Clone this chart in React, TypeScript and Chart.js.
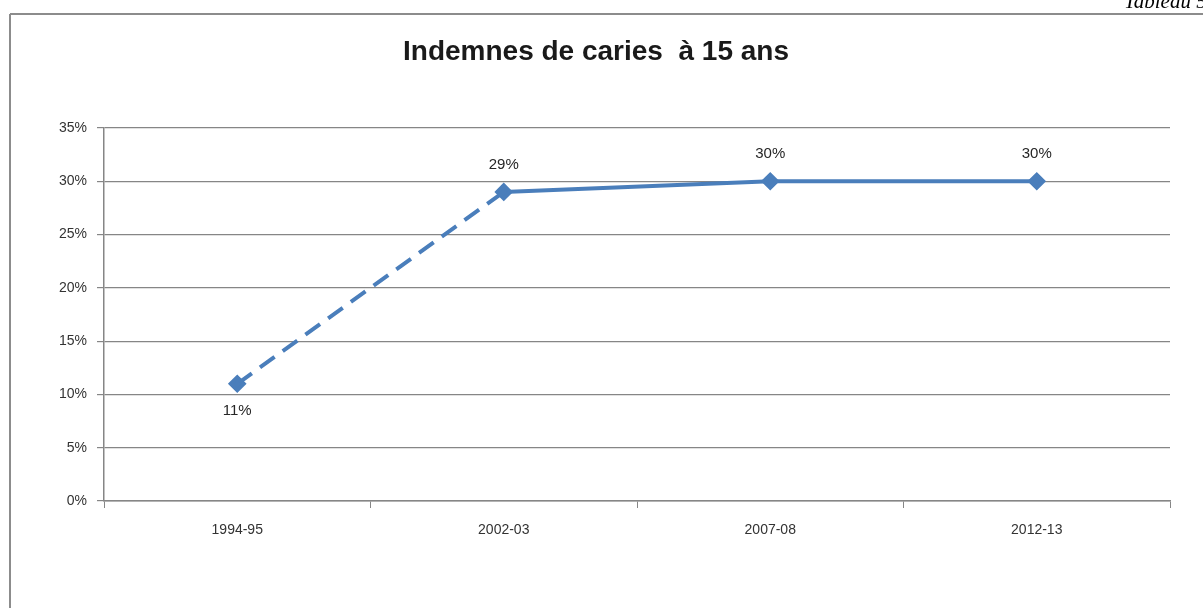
import React, { useEffect, useRef } from "react";
import { Chart, registerables } from "chart.js";

Chart.register(...registerables);

const categories = ["1994-95", "2002-03", "2007-08", "2012-13"];
const values = [11, 29, 30, 30];
const labelBelow = [true, false, false, false];
const yTicks = [0, 5, 10, 15, 20, 25, 30, 35];
const chartTitle = "Indemnes de caries  à 15 ans";
const pageCaption = "Tableau 51";

const FONT = "'Liberation Sans', Arial, sans-serif";
const BLUE = "#4A7EBB";

const decorPlugin = {
  id: "decor",
  beforeDraw(chart: any) {
    const ctx = chart.ctx;
    ctx.save();
    ctx.fillStyle = "#ffffff";
    ctx.fillRect(0, 0, chart.width, chart.height);
    // page border lines
    ctx.strokeStyle = "#8c8c8c";
    ctx.lineWidth = 2;
    ctx.beginPath();
    ctx.moveTo(10, 14);
    ctx.lineTo(chart.width, 14);
    ctx.moveTo(10, 14);
    ctx.lineTo(10, chart.height);
    ctx.stroke();
    // caption
    ctx.fillStyle = "#000000";
    ctx.font = "italic 21px 'Liberation Serif', 'Times New Roman', serif";
    ctx.textAlign = "left";
    ctx.textBaseline = "alphabetic";
    ctx.fillText(pageCaption, 1124, 8);
    // title
    ctx.font = "bold 28px " + FONT;
    ctx.textAlign = "center";
    ctx.textBaseline = "middle";
    ctx.fillStyle = "#1a1a1a";
    ctx.fillText(chartTitle, 596, 52);
    ctx.restore();
  },
  afterDatasetsDraw(chart: any) {
    const ctx = chart.ctx;
    const meta = chart.getDatasetMeta(0);
    ctx.save();
    ctx.font = "15px " + FONT;
    ctx.fillStyle = "#262626";
    ctx.textAlign = "center";
    ctx.textBaseline = "middle";
    meta.data.forEach((pt: any, i: number) => {
      const dy = labelBelow[i] ? 27 : -27;
      ctx.fillText(values[i] + "%", pt.x, pt.y + dy);
    });
    ctx.restore();
  },
};

export default function App() {
  const ref = useRef<HTMLCanvasElement>(null);
  useEffect(() => {
    if (!ref.current) return;
    const chart = new Chart(ref.current, {
      type: "line",
      data: {
        labels: categories,
        datasets: [
          {
            data: values,
            borderColor: BLUE,
            backgroundColor: BLUE,
            borderWidth: 4,
            pointStyle: "rectRot",
            pointRadius: 6.5,
            pointBackgroundColor: BLUE,
            pointBorderColor: BLUE,
            tension: 0,
            segment: {
              borderDash: (c: any) => (c.p0DataIndex === 0 ? [18, 10] : undefined),
            },
          },
        ],
      },
      options: {
        responsive: false,
        animation: false,
        events: [],
        layout: { padding: { left: 0, right: 33, top: 128, bottom: 0 } },
        plugins: {
          legend: { display: false },
          title: { display: false },
          tooltip: { enabled: false },
        },
        scales: {
          x: {
            type: "category",
            offset: true,
            afterFit: (s: any) => {
              s.height = 107;
            },
            grid: {
              offset: true,
              drawOnChartArea: false,
              drawTicks: true,
              tickLength: 7,
              color: "#868686",
            },
            border: { display: true, color: "#868686", width: 1.5 },
            ticks: {
              color: "#333333",
              font: { family: FONT, size: 14 },
              padding: 14,
            },
          },
          y: {
            min: 0,
            max: 35,
            afterFit: (s: any) => {
              s.width = 104;
            },
            afterBuildTicks: (s: any) => {
              s.ticks = yTicks.map((v) => ({ value: v }));
            },
            grid: {
              color: "#868686",
              lineWidth: 1.2,
              drawTicks: true,
              tickLength: 7,
            },
            border: { display: true, color: "#868686", width: 1.5 },
            ticks: {
              color: "#333333",
              font: { family: FONT, size: 14 },
              padding: 10,
              callback: (v: any) => v + "%",
            },
          },
        },
      },
      plugins: [decorPlugin],
    });
    return () => chart.destroy();
  }, []);
  return (
    <div style={{ position: "absolute", left: 0, top: 0, width: 1203, height: 608, background: "#fff" }}>
      <canvas ref={ref} width={1203} height={608} style={{ display: "block" }} />
    </div>
  );
}
